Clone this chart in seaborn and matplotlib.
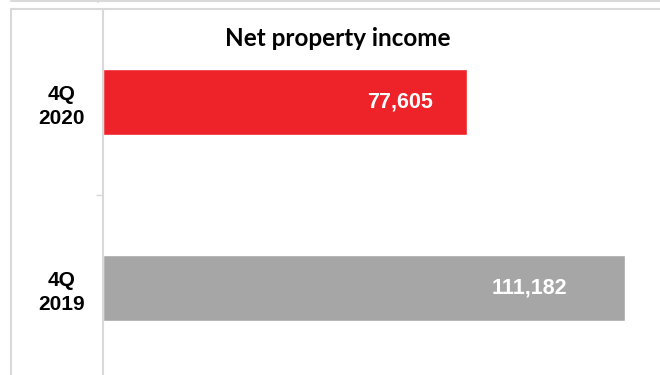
import matplotlib
matplotlib.use("Agg")
import matplotlib.pyplot as plt
from matplotlib.lines import Line2D
import seaborn as sns
import pandas as pd

periods = ["4Q\n2020", "4Q\n2019"]
net_property_income = [77605, 111182]
bar_colors = ["#EE2229", "#A6A6A6"]
title = "Net property income"

df = pd.DataFrame({"period": periods, "value": net_property_income})

sns.set_theme(style="white")
plt.rcParams["font.family"] = ["Liberation Sans", "DejaVu Sans"]

W, H = 660, 375
fig = plt.figure(figsize=(W / 100, H / 100), dpi=100)

# axes spans from the value axis line to the right edge, band height 186 px per category
ax_left, ax_top, ax_bottom = 102.5, 9, 381
ax = fig.add_axes([ax_left / W, (H - ax_bottom) / H, (W - ax_left) / W, (ax_bottom - ax_top) / H])

sns.barplot(data=df, y="period", x="value", hue="period", palette=bar_colors,
            orient="h", width=0.35, saturation=1, legend=False, ax=ax)

px_per_unit = 522 / 111182
ax.set_xlim(0, (W - ax_left) / px_per_unit)
ax.set_ylim(1.5, -0.5)
ax.set_xlabel("")
ax.set_ylabel("")
ax.set_xticks([])

for s in ["top", "right", "bottom"]:
    ax.spines[s].set_visible(False)
ax.spines["left"].set_color("#D9D9D9")
ax.spines["left"].set_linewidth(1.5)

ax.set_yticks([0, 1])
ax.set_yticklabels(periods, fontsize=15, fontweight="bold", color="black",
                   multialignment="center", linespacing=1.3)
ax.tick_params(axis="y", which="major", length=0, pad=13)
ax.set_yticks([0.5], minor=True)
ax.tick_params(axis="y", which="minor", length=5, width=1, color="#D9D9D9", left=True)

# value labels inside the bars
for i, v in enumerate(net_property_income):
    ax.text(v * 0.817, i, f"{v:,}", ha="center", va="center", color="white",
            fontsize=15.5, fontweight="bold")

fig.text(338 / W, 1 - 39 / H, title, ha="center", va="center",
         fontsize=17.5, fontweight="bold", family=["Lato", "DejaVu Sans"], color="black")

# table frame lines
grey = "#D9D9D9"
def fig_line(x0, y0, x1, y1, lw=1.5):
    fig.add_artist(Line2D([x0 / W, x1 / W], [1 - y0 / H, 1 - y1 / H],
                          color=grey, lw=lw, transform=fig.transFigure))

fig_line(11, 0.8, W, 0.8)
fig_line(11, 9, W, 9)
fig_line(11, 9, 11, H)
fig_line(97.5, 0, 97.5, 1.6)

fig.savefig("out.png", dpi=100)
